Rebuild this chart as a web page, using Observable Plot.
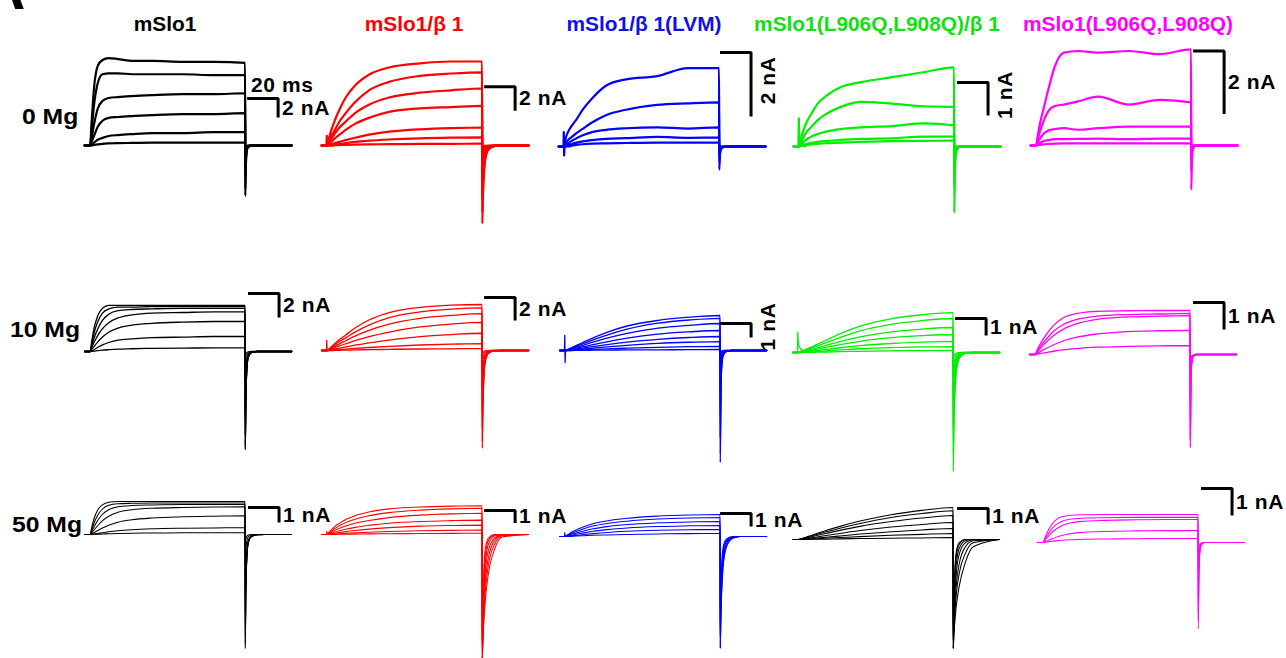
<!DOCTYPE html>
<html><head><meta charset="utf-8">
<script src="https://cdn.jsdelivr.net/npm/d3@7"></script>
<script src="https://cdn.jsdelivr.net/npm/@observablehq/plot@0.6"></script>
<style>
html,body{margin:0;padding:0;background:#fff;}
#fig{position:relative;width:1286px;height:658px;overflow:hidden;background:#fff;font-family:"Liberation Sans",Arial,sans-serif;}
.panel text{letter-spacing:0.6px;}
.lbl{position:absolute;font-weight:bold;white-space:nowrap;line-height:1;font-family:"Liberation Sans",Arial,sans-serif;}
</style></head><body><div id="fig"></div><script>
// ---------- categories ----------
const conditions = ["0 Mg", "10 Mg", "50 Mg"];
const constructs = ["mSlo1", "mSlo1/β 1", "mSlo1/β 1(LVM)", "mSlo1(L906Q,L908Q)/β 1", "mSlo1(L906Q,L908Q)"];

// ---------- sample times (ms) ----------
const holdStart = -3.5;
const stepTimes = [0, 1, 2.5, 5, 8, 12, 18, 27, 40, 60, 80, 100];
const tailTimes = [100.1, 100.5, 101, 102, 104, 108, 113, 130];
const artifactTimes = [-0.4, -0.2, 0, 0.3, 1.5, 4];

// ---------- scale bars ----------
const scaleBarTime = 20; // ms
const scaleBarCurrent = [[2, 2, 2, 1, 2], [2, 2, 1, 1, 1], [1, 1, 1, 1, 1]]; // nA

// ---------- currents during the step (nA) ----------
const mSlo1_0Mg = [
 [0, 2.5, 6.0, 8.4, 9.0, 9.2, 9.1, 8.9, 8.9, 8.8, 8.8, 8.7],
 [0, 1.6, 4.2, 6.6, 7.5, 7.6, 7.6, 7.5, 7.5, 7.5, 7.4, 7.4],
 [0, 0.8, 2.2, 3.9, 4.7, 5.0, 5.1, 5.2, 5.3, 5.4, 5.4, 5.5],
 [0, 0.4, 1.0, 2.0, 2.6, 2.9, 3.0, 3.1, 3.2, 3.3, 3.3, 3.4],
 [0, 0.1, 0.3, 0.6, 0.8, 1.0, 1.1, 1.2, 1.3, 1.3, 1.4, 1.4],
 [0, 0.02, 0.06, 0.12, 0.18, 0.22, 0.25, 0.27, 0.3, 0.3, 0.3, 0.3]
];
const beta1_0Mg = [
 [0, 0.5, 1.2, 2.1, 3.0, 4.0, 5.0, 5.9, 6.5, 6.85, 7.0, 7.0],
 [0, 0.3, 0.7, 1.3, 2.0, 2.7, 3.6, 4.6, 5.3, 5.8, 6.0, 6.1],
 [0, 0.2, 0.5, 1.0, 1.5, 2.0, 2.7, 3.4, 4.0, 4.4, 4.6, 4.75],
 [0, 0.1, 0.3, 0.6, 0.9, 1.3, 1.8, 2.3, 2.8, 3.1, 3.2, 3.3],
 [0, 0.03, 0.1, 0.2, 0.3, 0.45, 0.65, 0.9, 1.15, 1.35, 1.45, 1.5],
 [0, 0.01, 0.04, 0.08, 0.13, 0.2, 0.3, 0.4, 0.5, 0.6, 0.65, 0.67],
 [0, 0, 0.01, 0.02, 0.03, 0.05, 0.07, 0.09, 0.11, 0.13, 0.14, 0.15]
];
const LVM_0Mg = [
 [0, 0.25, 0.45, 0.65, 0.85, 1.15, 1.5, 1.9, 2.1, 2.2, 2.45, 2.45],
 [0, 0.1, 0.2, 0.3, 0.42, 0.55, 0.75, 0.98, 1.15, 1.3, 1.35, 1.38],
 [0, 0.05, 0.1, 0.18, 0.26, 0.35, 0.45, 0.52, 0.57, 0.6, 0.56, 0.6],
 [0, 0.02, 0.05, 0.08, 0.12, 0.16, 0.2, 0.24, 0.26, 0.3, 0.27, 0.28],
 [0, 0.01, 0.02, 0.03, 0.05, 0.07, 0.09, 0.1, 0.11, 0.12, 0.12, 0.12]
];
const QQbeta1_0Mg = [
 [0, 0.2, 0.45, 0.75, 1.0, 1.3, 1.55, 1.8, 1.95, 2.1, 2.25, 2.4],
 [0, 0.1, 0.25, 0.45, 0.6, 0.8, 1.0, 1.2, 1.35, 1.3, 1.22, 1.2],
 [0, 0.05, 0.12, 0.22, 0.3, 0.38, 0.46, 0.53, 0.58, 0.62, 0.7, 0.64],
 [0, 0.02, 0.05, 0.08, 0.11, 0.14, 0.17, 0.2, 0.23, 0.25, 0.3, 0.3],
 [0, 0.01, 0.02, 0.04, 0.06, 0.08, 0.1, 0.12, 0.14, 0.16, 0.17, 0.18]
];
const QQ_0Mg = [
 [0, 0.3, 0.7, 1.2, 1.8, 2.5, 2.95, 3.0, 2.95, 3.0, 2.9, 3.05],
 [0, 0.2, 0.45, 0.8, 1.1, 1.25, 1.3, 1.4, 1.55, 1.3, 1.45, 1.37],
 [0, 0.1, 0.22, 0.38, 0.48, 0.52, 0.55, 0.5, 0.55, 0.6, 0.6, 0.6],
 [0, 0.03, 0.08, 0.14, 0.17, 0.2, 0.2, 0.21, 0.22, 0.2, 0.22, 0.22],
 [0, 0.01, 0.02, 0.04, 0.05, 0.06, 0.07, 0.07, 0.07, 0.07, 0.07, 0.07]
];
const mSlo1_10Mg = [
 [0, 0.8, 1.9, 3.0, 3.6, 3.85, 3.85, 3.85, 3.85, 3.85, 3.85, 3.85],
 [0, 0.6, 1.5, 2.5, 3.2, 3.55, 3.7, 3.7, 3.75, 3.75, 3.75, 3.75],
 [0, 0.45, 1.1, 1.9, 2.6, 3.1, 3.4, 3.5, 3.55, 3.6, 3.6, 3.6],
 [0, 0.3, 0.75, 1.35, 1.9, 2.4, 2.8, 3.05, 3.2, 3.25, 3.3, 3.3],
 [0, 0.15, 0.4, 0.8, 1.2, 1.6, 1.95, 2.2, 2.35, 2.45, 2.5, 2.5],
 [0, 0.05, 0.15, 0.35, 0.55, 0.75, 0.95, 1.05, 1.15, 1.2, 1.25, 1.25],
 [0, 0.01, 0.03, 0.07, 0.11, 0.15, 0.2, 0.23, 0.26, 0.28, 0.3, 0.3]
];
const beta1_10Mg = [
 [0, 0.1, 0.3, 0.6, 0.95, 1.35, 1.95, 2.65, 3.3, 3.75, 3.95, 4.0],
 [0, 0.08, 0.22, 0.48, 0.78, 1.1, 1.6, 2.2, 2.85, 3.35, 3.6, 3.7],
 [0, 0.06, 0.17, 0.36, 0.58, 0.85, 1.25, 1.75, 2.3, 2.8, 3.05, 3.2],
 [0, 0.04, 0.11, 0.24, 0.4, 0.58, 0.85, 1.2, 1.6, 2.05, 2.3, 2.45],
 [0, 0.02, 0.06, 0.13, 0.21, 0.31, 0.46, 0.66, 0.9, 1.2, 1.38, 1.5],
 [0, 0.01, 0.02, 0.05, 0.08, 0.12, 0.18, 0.26, 0.36, 0.48, 0.55, 0.6],
 [0, 0, 0.01, 0.01, 0.02, 0.03, 0.05, 0.07, 0.1, 0.13, 0.15, 0.17]
];
const LVM_10Mg = [
 [0, 0.05, 0.12, 0.25, 0.4, 0.6, 0.9, 1.3, 1.75, 2.15, 2.38, 2.5],
 [0, 0.04, 0.1, 0.2, 0.33, 0.5, 0.76, 1.1, 1.52, 1.95, 2.18, 2.3],
 [0, 0.03, 0.08, 0.16, 0.26, 0.39, 0.6, 0.88, 1.22, 1.6, 1.8, 1.93],
 [0, 0.02, 0.05, 0.11, 0.18, 0.27, 0.42, 0.62, 0.88, 1.17, 1.33, 1.43],
 [0, 0.01, 0.03, 0.07, 0.12, 0.18, 0.28, 0.42, 0.6, 0.8, 0.93, 1.0],
 [0, 0.01, 0.02, 0.04, 0.07, 0.11, 0.17, 0.26, 0.37, 0.51, 0.59, 0.64],
 [0, 0, 0.01, 0.02, 0.03, 0.05, 0.08, 0.12, 0.17, 0.23, 0.27, 0.29],
 [0, 0, 0, 0, 0.01, 0.01, 0.02, 0.03, 0.04, 0.05, 0.06, 0.07]
];
const QQbeta1_10Mg = [
 [0, 0.03, 0.08, 0.18, 0.3, 0.46, 0.72, 1.1, 1.55, 1.98, 2.22, 2.35],
 [0, 0.02, 0.06, 0.14, 0.24, 0.37, 0.58, 0.88, 1.27, 1.65, 1.88, 2.0],
 [0, 0.02, 0.05, 0.1, 0.17, 0.27, 0.42, 0.64, 0.92, 1.21, 1.38, 1.47],
 [0, 0.01, 0.03, 0.07, 0.12, 0.19, 0.3, 0.46, 0.66, 0.87, 0.99, 1.06],
 [0, 0.01, 0.02, 0.04, 0.07, 0.11, 0.18, 0.28, 0.4, 0.53, 0.61, 0.65],
 [0, 0, 0.01, 0.02, 0.04, 0.06, 0.1, 0.15, 0.22, 0.29, 0.33, 0.35],
 [0, 0, 0, 0.01, 0.01, 0.02, 0.03, 0.05, 0.07, 0.1, 0.11, 0.12]
];
const QQ_10Mg = [
 [0, 0.12, 0.3, 0.55, 0.8, 1.08, 1.35, 1.52, 1.6, 1.62, 1.63, 1.63],
 [0, 0.09, 0.22, 0.42, 0.62, 0.86, 1.1, 1.3, 1.42, 1.48, 1.5, 1.52],
 [0, 0.07, 0.17, 0.33, 0.5, 0.7, 0.93, 1.14, 1.3, 1.39, 1.42, 1.44],
 [0, 0.03, 0.08, 0.16, 0.25, 0.36, 0.5, 0.64, 0.76, 0.85, 0.88, 0.89],
 [0, 0.01, 0.03, 0.05, 0.08, 0.12, 0.17, 0.22, 0.27, 0.3, 0.32, 0.33]
];
const mSlo1_50Mg = [
 [0, 0.45, 1.05, 1.65, 1.98, 2.15, 2.2, 2.2, 2.2, 2.2, 2.2, 2.2],
 [0, 0.3, 0.75, 1.3, 1.7, 1.95, 2.05, 2.08, 2.1, 2.1, 2.1, 2.1],
 [0, 0.2, 0.5, 0.95, 1.35, 1.65, 1.85, 1.93, 1.97, 2.0, 2.0, 2.0],
 [0, 0.12, 0.3, 0.6, 0.92, 1.22, 1.48, 1.65, 1.75, 1.8, 1.83, 1.85],
 [0, 0.05, 0.13, 0.27, 0.43, 0.62, 0.82, 0.98, 1.1, 1.18, 1.22, 1.25],
 [0, 0.01, 0.03, 0.07, 0.12, 0.18, 0.25, 0.32, 0.38, 0.42, 0.44, 0.45],
 [0, 0, 0.01, 0.02, 0.03, 0.05, 0.07, 0.09, 0.1, 0.11, 0.12, 0.12]
];
const beta1_50Mg = [
 [0, 0.15, 0.35, 0.65, 0.9, 1.2, 1.5, 1.8, 2.05, 2.2, 2.27, 2.3],
 [0, 0.1, 0.25, 0.48, 0.7, 0.95, 1.22, 1.5, 1.75, 1.95, 2.05, 2.1],
 [0, 0.07, 0.17, 0.33, 0.5, 0.68, 0.9, 1.12, 1.35, 1.55, 1.65, 1.7],
 [0, 0.04, 0.1, 0.2, 0.3, 0.42, 0.57, 0.73, 0.9, 1.04, 1.11, 1.15],
 [0, 0.02, 0.05, 0.1, 0.16, 0.23, 0.32, 0.43, 0.55, 0.67, 0.72, 0.75],
 [0, 0.01, 0.02, 0.04, 0.06, 0.09, 0.13, 0.18, 0.24, 0.3, 0.33, 0.35],
 [0, 0, 0, 0.01, 0.02, 0.02, 0.03, 0.05, 0.06, 0.08, 0.09, 0.1]
];
const LVM_50Mg = [
 [0, 0.08, 0.2, 0.38, 0.55, 0.75, 0.98, 1.2, 1.4, 1.57, 1.66, 1.7],
 [0, 0.06, 0.15, 0.29, 0.43, 0.6, 0.8, 1.0, 1.18, 1.34, 1.42, 1.46],
 [0, 0.04, 0.1, 0.2, 0.3, 0.43, 0.59, 0.76, 0.92, 1.05, 1.12, 1.15],
 [0, 0.02, 0.06, 0.12, 0.19, 0.28, 0.4, 0.53, 0.66, 0.77, 0.82, 0.85],
 [0, 0.01, 0.03, 0.06, 0.1, 0.15, 0.22, 0.31, 0.4, 0.48, 0.52, 0.54],
 [0, 0, 0.01, 0.02, 0.04, 0.06, 0.09, 0.12, 0.16, 0.2, 0.22, 0.23]
];
const QQbeta1_50Mg = [
 [0, 0.02, 0.06, 0.14, 0.24, 0.37, 0.56, 0.82, 1.15, 1.55, 1.82, 2.0],
 [0, 0.02, 0.05, 0.12, 0.2, 0.31, 0.48, 0.71, 1.0, 1.37, 1.62, 1.8],
 [0, 0.01, 0.04, 0.09, 0.16, 0.25, 0.38, 0.57, 0.82, 1.12, 1.34, 1.5],
 [0, 0.01, 0.03, 0.06, 0.1, 0.16, 0.25, 0.38, 0.56, 0.78, 0.94, 1.06],
 [0, 0, 0.01, 0.03, 0.06, 0.09, 0.14, 0.22, 0.34, 0.49, 0.6, 0.69],
 [0, 0, 0.01, 0.02, 0.03, 0.05, 0.08, 0.12, 0.18, 0.26, 0.32, 0.37],
 [0, 0, 0, 0, 0.01, 0.01, 0.02, 0.04, 0.06, 0.08, 0.1, 0.12]
];
const QQ_50Mg = [
 [0, 0.15, 0.35, 0.62, 0.82, 0.95, 1.01, 1.03, 1.04, 1.04, 1.04, 1.04],
 [0, 0.1, 0.25, 0.46, 0.64, 0.78, 0.87, 0.91, 0.92, 0.93, 0.93, 0.93],
 [0, 0.07, 0.17, 0.33, 0.48, 0.62, 0.73, 0.79, 0.82, 0.84, 0.85, 0.85],
 [0, 0.02, 0.06, 0.12, 0.19, 0.26, 0.33, 0.38, 0.41, 0.43, 0.44, 0.44],
 [0, 0.01, 0.02, 0.04, 0.06, 0.08, 0.1, 0.12, 0.13, 0.14, 0.15, 0.15]
];

// ---------- tail currents after the step (nA, at tailTimes) ----------
const mSlo1_0Mg_tail = [
 [-5.3, -2.1, -0.7, -0.15, -0.03, 0, 0, 0],
 [-4.6, -1.8, -0.6, -0.13, -0.02, 0, 0, 0],
 [-3.4, -1.4, -0.45, -0.1, -0.02, 0, 0, 0],
 [-2.1, -0.85, -0.28, -0.06, -0.01, 0, 0, 0],
 [-0.9, -0.36, -0.12, -0.03, 0, 0, 0, 0],
 [-0.2, -0.08, -0.03, 0, 0, 0, 0, 0]
];
const beta1_0Mg_tail = [
 [-6.5, -4.4, -2.8, -1.2, -0.35, -0.05, 0, 0],
 [-5.6, -3.8, -2.4, -1.0, -0.3, -0.04, 0, 0],
 [-4.5, -3.0, -1.9, -0.8, -0.24, -0.03, 0, 0],
 [-3.2, -2.1, -1.35, -0.57, -0.17, -0.02, 0, 0],
 [-1.6, -1.05, -0.67, -0.28, -0.08, 0, 0, 0],
 [-0.75, -0.5, -0.32, -0.13, -0.04, 0, 0, 0],
 [-0.2, -0.13, -0.08, -0.03, 0, 0, 0, 0]
];
const LVM_0Mg_tail = [
 [-0.72, -0.3, -0.12, -0.04, 0, 0, 0, 0],
 [-0.5, -0.2, -0.08, -0.03, 0, 0, 0, 0],
 [-0.3, -0.12, -0.05, -0.02, 0, 0, 0, 0],
 [-0.15, -0.06, -0.02, 0, 0, 0, 0, 0],
 [-0.06, -0.02, 0, 0, 0, 0, 0, 0]
];
const QQbeta1_0Mg_tail = [
 [-2.0, -0.8, -0.3, -0.08, 0, 0, 0, 0],
 [-1.2, -0.48, -0.18, -0.05, 0, 0, 0, 0],
 [-0.7, -0.28, -0.1, -0.03, 0, 0, 0, 0],
 [-0.35, -0.14, -0.05, 0, 0, 0, 0, 0],
 [-0.2, -0.08, -0.03, 0, 0, 0, 0, 0]
];
const QQ_0Mg_tail = [
 [-1.4, -0.5, -0.15, -0.04, 0, 0, 0, 0],
 [-0.8, -0.3, -0.09, -0.02, 0, 0, 0, 0],
 [-0.4, -0.15, -0.05, 0, 0, 0, 0, 0],
 [-0.15, -0.06, -0.02, 0, 0, 0, 0, 0],
 [-0.05, -0.02, 0, 0, 0, 0, 0, 0]
];
const mSlo1_10Mg_tail = [
 [-8.2, -4.1, -1.8, -0.5, -0.1, 0, 0, 0],
 [-8.0, -4.0, -1.75, -0.48, -0.1, 0, 0, 0],
 [-7.7, -3.8, -1.7, -0.46, -0.09, 0, 0, 0],
 [-7.0, -3.5, -1.55, -0.42, -0.08, 0, 0, 0],
 [-5.4, -2.7, -1.2, -0.32, -0.06, 0, 0, 0],
 [-2.7, -1.35, -0.6, -0.16, -0.03, 0, 0, 0],
 [-0.65, -0.32, -0.14, -0.04, 0, 0, 0, 0]
];
const beta1_10Mg_tail = [
 [-8.5, -5.1, -2.8, -1.0, -0.25, -0.03, 0, 0],
 [-7.9, -4.7, -2.6, -0.95, -0.24, -0.03, 0, 0],
 [-6.8, -4.1, -2.25, -0.82, -0.2, -0.03, 0, 0],
 [-5.2, -3.1, -1.7, -0.62, -0.16, -0.02, 0, 0],
 [-3.2, -1.9, -1.05, -0.38, -0.1, 0, 0, 0],
 [-1.3, -0.78, -0.43, -0.16, -0.04, 0, 0, 0],
 [-0.36, -0.22, -0.12, -0.04, 0, 0, 0, 0]
];
const LVM_10Mg_tail = [
 [-8.0, -3.5, -1.3, -0.36, -0.08, 0, 0, 0],
 [-7.4, -3.25, -1.2, -0.33, -0.07, 0, 0, 0],
 [-6.2, -2.7, -1.0, -0.28, -0.06, 0, 0, 0],
 [-4.6, -2.0, -0.74, -0.2, -0.05, 0, 0, 0],
 [-3.2, -1.4, -0.5, -0.14, -0.03, 0, 0, 0],
 [-2.05, -0.9, -0.33, -0.09, -0.02, 0, 0, 0],
 [-0.93, -0.41, -0.15, -0.04, 0, 0, 0, 0],
 [-0.22, -0.1, -0.04, 0, 0, 0, 0, 0]
];
const QQbeta1_10Mg_tail = [
 [-7.0, -4.5, -2.8, -1.2, -0.35, -0.05, 0, 0],
 [-6.0, -3.85, -2.4, -1.0, -0.3, -0.04, 0, 0],
 [-4.4, -2.8, -1.75, -0.75, -0.22, -0.03, 0, 0],
 [-3.2, -2.05, -1.28, -0.54, -0.16, -0.02, 0, 0],
 [-1.95, -1.25, -0.78, -0.33, -0.1, 0, 0, 0],
 [-1.05, -0.67, -0.42, -0.18, -0.05, 0, 0, 0],
 [-0.36, -0.23, -0.14, -0.06, 0, 0, 0, 0]
];
const QQ_10Mg_tail = [
 [-3.45, -1.2, -0.35, -0.08, 0, 0, 0, 0],
 [-3.2, -1.12, -0.32, -0.07, 0, 0, 0, 0],
 [-3.05, -1.07, -0.3, -0.07, 0, 0, 0, 0],
 [-1.9, -0.66, -0.19, -0.04, 0, 0, 0, 0],
 [-0.7, -0.25, -0.07, -0.02, 0, 0, 0, 0]
];
const mSlo1_50Mg_tail = [
 [-7.6, -3.8, -1.9, -0.6, -0.15, -0.02, 0, 0],
 [-7.4, -3.7, -1.85, -0.58, -0.14, -0.02, 0, 0],
 [-7.2, -3.6, -1.8, -0.56, -0.14, -0.02, 0, 0],
 [-6.8, -3.4, -1.7, -0.53, -0.13, -0.02, 0, 0],
 [-5.0, -2.5, -1.25, -0.39, -0.1, 0, 0, 0],
 [-2.0, -1.0, -0.5, -0.16, -0.04, 0, 0, 0],
 [-0.55, -0.28, -0.14, -0.04, 0, 0, 0, 0]
];
const beta1_50Mg_tail = [
 [-10, -8.6, -7.3, -5.4, -3.2, -1.2, -0.2, 0],
 [-10, -8.3, -6.8, -4.7, -2.5, -0.8, -0.1, 0],
 [-10, -8.0, -6.2, -4.0, -1.9, -0.5, -0.05, 0],
 [-10, -7.6, -5.6, -3.2, -1.3, -0.3, 0, 0],
 [-10, -7.2, -5.0, -2.5, -0.8, -0.12, 0, 0],
 [-9.6, -6.6, -4.2, -1.8, -0.5, -0.04, 0, 0],
 [-8.5, -5.6, -3.3, -1.2, -0.3, 0, 0, 0]
];
const LVM_50Mg_tail = [
 [-8.6, -6.2, -4.4, -2.3, -0.85, -0.15, 0, 0],
 [-8.6, -6.0, -4.1, -2.0, -0.7, -0.1, 0, 0],
 [-8.5, -5.7, -3.7, -1.7, -0.55, -0.07, 0, 0],
 [-8.2, -5.3, -3.3, -1.4, -0.4, -0.05, 0, 0],
 [-7.6, -4.8, -2.8, -1.1, -0.3, -0.03, 0, 0],
 [-6.5, -4.0, -2.2, -0.8, -0.2, 0, 0, 0]
];
const QQbeta1_50Mg_tail = [
 [-6.8, -6.0, -5.3, -4.2, -2.9, -1.4, -0.45, 0],
 [-6.8, -5.7, -4.8, -3.5, -2.1, -0.85, -0.2, 0],
 [-6.8, -5.4, -4.3, -2.9, -1.5, -0.45, -0.08, 0],
 [-6.8, -5.0, -3.7, -2.2, -0.9, -0.2, -0.02, 0],
 [-6.6, -4.6, -3.1, -1.6, -0.55, -0.08, 0, 0],
 [-6.3, -4.1, -2.6, -1.1, -0.3, 0, 0, 0],
 [-6.0, -3.6, -2.1, -0.8, -0.2, 0, 0, 0]
];
const QQ_50Mg_tail = [
 [-3.2, -1.3, -0.45, -0.1, 0, 0, 0, 0],
 [-2.9, -1.18, -0.41, -0.09, 0, 0, 0, 0],
 [-2.65, -1.08, -0.37, -0.08, 0, 0, 0, 0],
 [-1.4, -0.57, -0.2, -0.04, 0, 0, 0, 0],
 [-0.5, -0.2, -0.07, -0.02, 0, 0, 0, 0]
];

// ---------- capacitive artifacts at step onset (nA, at artifactTimes) ----------
const onsetArtifacts = [
 [null, [0, 0.8, 0, 0, 0, 0], [0, 0.45, -0.28, 0, 0, 0], [0, 0.85, 0.4, 0.2, 0.12, 0], null],
 [null, [0, 0.87, 0, 0, 0, 0], [0, 1.07, -0.86, 0, 0, 0], [0, 1.2, 0.75, 0.45, 0.2, 0.08], null],
 [null, [0, 0.25, 0, 0, 0, 0], [0, 0.3, 0.1, 0.05, 0, 0], null, null]
];

// ---------- styles & layout ----------
const panelColors = [
 ["#000000", "#ff0000", "#0000ff", "#00ee00", "#ff00ff"],
 ["#000000", "#ff0000", "#0000ff", "#00ee00", "#ff00ff"],
 ["#000000", "#ff0000", "#0000ff", "#000000", "#ff00ff"]
];
const titleColors = ["#000000", "#ff0000", "#1010e8", "#11e011", "#ff00ff"];
const rowStroke = [2.2, 1.3, 1.05];
const kx = 1.55;                 // px per ms
const layoutX0 = [[90, 327, 564, 799, 1036], [90, 327, 565, 798, 1035], [90, 327, 565, 798, 1043]];
const layoutY0 = [[145, 145, 146, 146, 145], [351, 350, 350, 352, 354], [534, 534, 536, 539, 542]];
const layoutGain = [[9.5, 12, 32, 33, 31.5], [12, 11.5, 14, 17, 27], [15, 12.5, 13, 16, 27]]; // px per nA
const barPosT = [[101.3, 101.3, 100.6, 101.9, 101.3], [101.9, 101.3, 100, 101.3, 101.9], [101.9, 101.3, 100, 102.6, 101.9]];
const barPosI = [[4.95, 4.9, 2.94, 1.94, 3.0], [4.83, 4.6, 1.93, 2.0, 1.93], [1.8, 1.92, 1.77, 1.94, 2.0]];
const rotatedLabel = [[false, false, true, true, false], [false, false, true, false, false], [false, false, false, false, false]];
const titleCenters = [165, 414, 644, 877, 1128];
const rowLabelPos = [[22, 125], [10, 338], [12, 533]];

const traces = [
 [mSlo1_0Mg, beta1_0Mg, LVM_0Mg, QQbeta1_0Mg, QQ_0Mg],
 [mSlo1_10Mg, beta1_10Mg, LVM_10Mg, QQbeta1_10Mg, QQ_10Mg],
 [mSlo1_50Mg, beta1_50Mg, LVM_50Mg, QQbeta1_50Mg, QQ_50Mg]
];
const tails = [
 [mSlo1_0Mg_tail, beta1_0Mg_tail, LVM_0Mg_tail, QQbeta1_0Mg_tail, QQ_0Mg_tail],
 [mSlo1_10Mg_tail, beta1_10Mg_tail, LVM_10Mg_tail, QQbeta1_10Mg_tail, QQ_10Mg_tail],
 [mSlo1_50Mg_tail, beta1_50Mg_tail, LVM_50Mg_tail, QQbeta1_50Mg_tail, QQ_50Mg_tail]
];

const fig = document.getElementById("fig");
const FONT = "Liberation Sans, Arial, sans-serif";
const tMin = -12, tMax = 168, padAbove = 115, padBelow = 135;

for (let r = 0; r < 3; r++) {
  for (let c = 0; c < 5; c++) {
    const gain = layoutGain[r][c];
    const color = panelColors[r][c];
    const rows = [];
    traces[r][c].forEach((tr, k) => {
      rows.push({t: holdStart, I: 0, k});
      stepTimes.forEach((t, i) => rows.push({t, I: tr[i], k}));
      tailTimes.forEach((t, i) => rows.push({t, I: tails[r][c][k][i], k}));
    });
    const marks = [];
    const art = onsetArtifacts[r][c];
    if (art) {
      marks.push(Plot.line(artifactTimes.map((t, i) => ({t, I: art[i]})),
        {x: "t", y: "I", stroke: color, strokeWidth: rowStroke[r]}));
    }
    marks.push(Plot.line(rows, {x: "t", y: "I", z: "k", stroke: color, strokeWidth: rowStroke[r], curve: "monotone-x"}));
    // scale bar
    const bT = barPosT[r][c], bI = barPosI[r][c], amp = scaleBarCurrent[r][c];
    marks.push(Plot.line([{t: bT, I: bI}, {t: bT + scaleBarTime, I: bI}, {t: bT + scaleBarTime, I: bI - amp}],
      {x: "t", y: "I", stroke: "black", strokeWidth: 3, strokeLinejoin: "miter", strokeLinecap: "butt"}));
    const lab = [{t: bT + scaleBarTime, I: bI - amp / 2, s: amp + " nA"}];
    if (rotatedLabel[r][c]) {
      marks.push(Plot.text(lab, {x: "t", y: "I", text: "s", rotate: -90, dx: 17, dy: -4, textAnchor: "middle",
        fontSize: 21, fontWeight: "bold", fontFamily: FONT, fill: "black"}));
    } else {
      marks.push(Plot.text(lab, {x: "t", y: "I", text: "s", dx: 4, textAnchor: "start",
        fontSize: 21, fontWeight: "bold", fontFamily: FONT, fill: "black"}));
    }
    if (r === 0 && c === 0) {
      marks.push(Plot.text([{t: bT + 2.5, I: bI, s: scaleBarTime + " ms"}], {x: "t", y: "I", text: "s", dy: -13,
        textAnchor: "start", fontSize: 21, fontWeight: "bold", fontFamily: FONT, fill: "black"}));
    }
    const W = (tMax - tMin) * kx;
    const H = padAbove + padBelow;
    const svg = Plot.plot({
      width: W, height: H, margin: 0,
      className: "panel",
      style: {background: "transparent", overflow: "visible"},
      x: {domain: [tMin, tMax], axis: null},
      y: {domain: [-padBelow / gain, padAbove / gain], axis: null},
      marks
    });
    svg.style.position = "absolute";
    svg.style.left = (layoutX0[r][c] + tMin * kx) + "px";
    svg.style.top = (layoutY0[r][c] - padAbove) + "px";
    svg.style.maxWidth = "none";
    fig.appendChild(svg);
  }
}

// titles
const TF = 19.5;
constructs.forEach((name, c) => {
  const d = document.createElement("div");
  d.className = "lbl";
  d.textContent = name;
  d.style.fontSize = TF + "px";
  d.style.color = titleColors[c];
  d.style.left = titleCenters[c] + "px";
  d.style.top = (32 - 0.8465 * TF) + "px";
  d.style.transformOrigin = "50% 0";
  d.style.transform = "translateX(-50%) scaleX(1.07)";
  fig.appendChild(d);
});
// row labels
const RF = 21.5;
conditions.forEach((name, r) => {
  const d = document.createElement("div");
  d.className = "lbl";
  d.textContent = name;
  d.style.fontSize = RF + "px";
  d.style.color = "#000";
  d.style.left = rowLabelPos[r][0] + "px";
  d.style.top = (rowLabelPos[r][1] - 0.8465 * RF) + "px";
  d.style.transformOrigin = "0 0";
  d.style.transform = "scaleX(1.15)";
  fig.appendChild(d);
});
// clipped panel letter at the top-left corner
const pl = document.createElement("div");
pl.className = "lbl";
pl.textContent = "A";
pl.style.fontSize = "60px";
pl.style.left = "-18px";
pl.style.top = (10 - 0.8465 * 60) + "px";
fig.appendChild(pl);
</script></body></html>
